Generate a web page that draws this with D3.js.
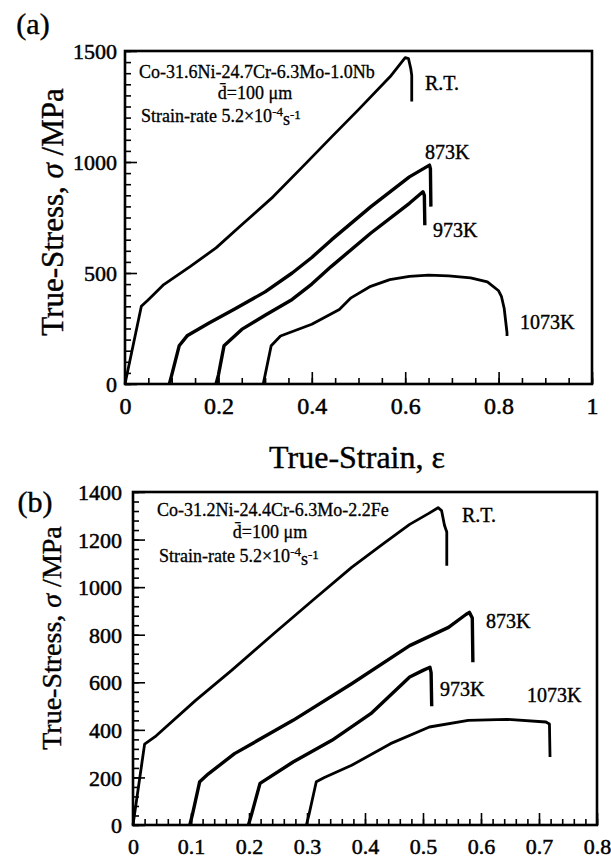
<!DOCTYPE html>
<html><head><meta charset="utf-8">
<script src="https://cdn.jsdelivr.net/npm/d3@7"></script>
<style>
body{margin:0;background:#fff;}
svg text{font-family:"Liberation Serif","Times New Roman",Times,serif !important;fill:#000;}
</style></head>
<body>
<svg id="c" width="611" height="859"></svg>
<script>
// ---------- data ----------
// Panel (a): Co-31.6Ni-24.7Cr-6.3Mo-1.0Nb  [true strain, true stress MPa]
const a_RT = [[0,0],[0.035,350],[0.05,380],[0.083,448],[0.14,530],[0.195,613],[0.25,717],[0.317,843],[0.38,978],[0.442,1112],[0.5,1236],[0.568,1385],[0.6,1470],[0.607,1466],[0.612,1420],[0.614,1390],[0.614,1272]];
const a_873 = [[0.095,0],[0.1,40],[0.116,172],[0.133,217],[0.18,275],[0.233,336],[0.3,415],[0.358,500],[0.4,570],[0.442,649],[0.526,798],[0.609,933],[0.652,986],[0.654,970],[0.655,799]];
const a_973 = [[0.195,0],[0.2,40],[0.212,172],[0.25,246],[0.3,310],[0.358,381],[0.4,450],[0.442,530],[0.526,679],[0.609,814],[0.638,866],[0.641,850],[0.642,715]];
const a_1073 = [[0.296,0],[0.3,40],[0.313,172],[0.333,216],[0.4,269],[0.459,336],[0.484,388],[0.526,440],[0.567,470],[0.609,485],[0.65,490],[0.693,487],[0.74,478],[0.776,460],[0.8,420],[0.806,395],[0.812,340],[0.818,231],[0.818,216]];
// Panel (b): Co-31.2Ni-24.4Cr-6.3Mo-2.2Fe
const b_RT = [[0,0],[0.02,340],[0.04,375],[0.108,524],[0.17,650],[0.242,803],[0.31,945],[0.377,1083],[0.43,1180],[0.477,1264],[0.51,1310],[0.526,1334],[0.532,1322],[0.537,1260],[0.541,1232],[0.541,1090]];
const b_873 = [[0.098,0],[0.103,50],[0.115,182],[0.13,215],[0.175,300],[0.276,440],[0.377,594],[0.477,754],[0.544,831],[0.574,885],[0.58,894],[0.585,870],[0.586,684]];
const b_973 = [[0.199,0],[0.205,50],[0.219,175],[0.276,265],[0.343,356],[0.41,468],[0.477,622],[0.5,650],[0.512,663],[0.514,640],[0.515,499]];
const b_1073 = [[0.299,0],[0.304,50],[0.316,182],[0.33,200],[0.377,251],[0.444,342],[0.511,412],[0.578,440],[0.645,444],[0.712,433],[0.718,425],[0.719,286]];

const seriesLabels = ["R.T.","873K","973K","1073K"];
const aXTicks = [0,0.2,0.4,0.6,0.8,1];
const aYTicks = [0,500,1000,1500];
const bXTicks = [0,0.1,0.2,0.3,0.4,0.5,0.6,0.7,0.8];
const bYTicks = [0,200,400,600,800,1000,1200,1400];
const aAlloy = "Co-31.6Ni-24.7Cr-6.3Mo-1.0Nb";
const bAlloy = "Co-31.2Ni-24.4Cr-6.3Mo-2.2Fe";

// ---------- drawing ----------
const svg = d3.select("#c");
const SERIF = '"Liberation Serif","Times New Roman",Times,serif';

function panel(cfg){
  const g = svg.append("g");
  const x = d3.scaleLinear().domain(cfg.xd).range([cfg.l,cfg.r]);
  const y = d3.scaleLinear().domain(cfg.yd).range([cfg.b,cfg.t]);
  // minor ticks
  g.append("g").attr("transform",`translate(0,${cfg.b})`)
    .call(d3.axisBottom(x).tickValues(d3.range(cfg.xd[0],cfg.xd[1]+1e-9,cfg.xMinor)).tickSize(-6).tickFormat(""))
    .call(s=>s.select(".domain").remove());
  g.append("g").attr("transform",`translate(${cfg.l},0)`)
    .call(d3.axisLeft(y).tickValues(d3.range(cfg.yd[0],cfg.yd[1]+1e-9,cfg.yMinor)).tickSize(-6).tickFormat(""))
    .call(s=>s.select(".domain").remove());
  // major ticks + labels
  const gx = g.append("g").attr("transform",`translate(0,${cfg.b})`)
    .call(d3.axisBottom(x).tickValues(cfg.xt).tickSize(-12).tickFormat(d=>String(+d.toFixed(2))));
  gx.select(".domain").remove();
  gx.attr("font-family",SERIF);
  gx.selectAll("text").attr("y",cfg.xLabY).attr("dy","0.35em").style("font-size",cfg.xfs).attr("stroke","#000").attr("stroke-width",0.5);
  const gy = g.append("g").attr("transform",`translate(${cfg.l},0)`)
    .call(d3.axisLeft(y).tickValues(cfg.yt).tickSize(-12).tickFormat(d3.format("d")));
  gy.select(".domain").remove();
  gy.attr("font-family",SERIF);
  gy.selectAll("text").attr("x",cfg.yLabX).attr("dy","0.35em").style("font-size","22px").attr("stroke","#000").attr("stroke-width",0.5);
  g.selectAll(".tick line").attr("stroke","#000").attr("stroke-width",1.6);
  // frame
  g.append("rect").attr("x",cfg.l).attr("y",cfg.t).attr("width",cfg.r-cfg.l).attr("height",cfg.b-cfg.t)
    .attr("fill","none").attr("stroke","#000").attr("stroke-width",2.6);
  // curves
  const line = d3.line().x(d=>x(d[0])).y(d=>y(d[1]));
  cfg.series.forEach((s,i)=>{
    g.append("path").datum(s).attr("d",line).attr("fill","none").attr("stroke","#000")
      .attr("stroke-width",i==1||i==2?3.4:2.8).attr("stroke-linejoin","round");
  });
  // series labels
  cfg.labels.forEach((p,i)=>{
    g.append("text").attr("x",p[0]).attr("y",p[1]).attr("dy","0.35em").style("font-size","20px")
      .attr("stroke","#000").attr("stroke-width",0.4).text(seriesLabels[i]);
  });
  // annotation
  const fs = "18px";
  g.append("text").attr("x",cfg.ann[0]).attr("y",cfg.ann[1]).attr("dy","0.35em").style("font-size",fs).attr("stroke","#000").attr("stroke-width",0.3).text(cfg.alloy);
  g.append("text").attr("x",cfg.ann2[0]).attr("y",cfg.ann2[1]).attr("dy","0.35em").attr("text-anchor","middle").style("font-size",fs).attr("stroke","#000").attr("stroke-width",0.3).text("d\u0304=100 \u03bcm");
  const t3 = g.append("text").attr("x",cfg.ann[0]+2).attr("y",cfg.ann3).attr("dy","0.35em").style("font-size",fs).attr("stroke","#000").attr("stroke-width",0.3);
  t3.append("tspan").text("Strain-rate 5.2\u00d710");
  t3.append("tspan").attr("dy","-0.45em").style("font-size","13px").text("-4");
  t3.append("tspan").attr("dy","0.45em").text("s");
  t3.append("tspan").attr("dy","-0.45em").style("font-size","13px").text("-1");
  // y title
  const yt = g.append("text").attr("transform",`translate(${cfg.ytitle[0]},${cfg.ytitle[1]}) rotate(-90)`)
    .attr("text-anchor","middle").attr("dy","0.35em").style("font-size",cfg.ytfs).attr("stroke","#000").attr("stroke-width",0.4);
  yt.append("tspan").text("True-Stress, ");
  yt.append("tspan").style("font-style","italic").text("\u03c3");
  yt.append("tspan").text(" /MPa");
  // panel letter
  g.append("text").attr("x",cfg.letter[0]).attr("y",cfg.letter[1]).attr("text-anchor","middle").attr("dy","0.35em")
    .style("font-size","30px").attr("stroke","#000").attr("stroke-width",0.4).text(cfg.letterText);
  return g;
}

panel({xd:[0,1],yd:[0,1500],l:125,r:592,t:51,b:384,xMinor:0.05,yMinor:50,xt:aXTicks,yt:aYTicks,xLabY:22,xfs:"24px",yLabX:-8,
  series:[a_RT,a_873,a_973,a_1073],
  labels:[[425,83],[425,152],[433,230],[520,322]],
  alloy:aAlloy,ann:[139,72],ann2:[255,93],ann3:116,ytitle:[52,212],ytfs:"31px",letter:[33,23],letterText:"(a)"});

panel({xd:[0,0.8],yd:[0,1400],l:133,r:597,t:492,b:825,xMinor:0.02,yMinor:40,xt:bXTicks,yt:bYTicks,xLabY:21,xfs:"22px",yLabX:-11,
  series:[b_RT,b_873,b_973,b_1073],
  labels:[[462,515],[486,621],[440,689],[527,695]],
  alloy:bAlloy,ann:[157,510],ann2:[270,532],ann3:556,ytitle:[51,638],ytfs:"28px",letter:[35,501],letterText:"(b)"});

// shared x title (between panels)
svg.append("text").attr("x",357).attr("y",457).attr("text-anchor","middle").attr("dy","0.35em")
  .style("font-size","32px").attr("stroke","#000").attr("stroke-width",0.4).text("True-Strain, \u03b5");
</script>
</body></html>
